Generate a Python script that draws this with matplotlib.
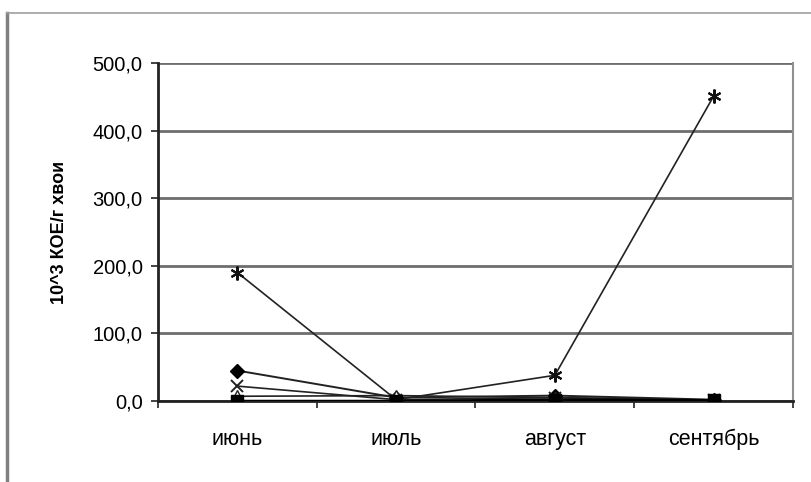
#!/usr/bin/env python3
import numpy as np
import matplotlib
matplotlib.use('Agg')
import matplotlib.pyplot as plt

months = ['июнь', 'июль', 'август', 'сентябрь']
s_star = [190.0, 2.0, 38.0, 451.0]
s_diamond = [45.0, 5.0, 8.0, 2.0]
s_cross = [22.0, 2.0, 5.0, 1.0]
s_triangle = [7.0, 8.0, 5.0, 1.0]
s_square = [0.0, 0.0, 2.0, 1.0]
y_ticks = [0, 100, 200, 300, 400, 500]

plt.rcParams['font.family'] = ['Liberation Sans', 'DejaVu Sans']

fig = plt.figure(figsize=(8.12, 4.82), dpi=100)
W, H = 812, 482
ax = fig.add_axes([158 / W, 1 - 401 / H, (793 - 158) / W, (401 - 63) / H])

# outer chart frame (left + top grey lines)
fig.add_artist(plt.Line2D([7 / W, 7 / W], [0, 1 - 13 / H], transform=fig.transFigure,
                          color='#808080', lw=2.5))
fig.add_artist(plt.Line2D([7 / W, 1], [1 - 13 / H, 1 - 13 / H], transform=fig.transFigure,
                          color='#a0a0a0', lw=1.2))

x = np.arange(len(months))
lc = '#222222'
ax.plot(x, s_star, color=lc, lw=1.2, marker=(6, 2, 0), ms=10, mew=1.5, mec='#111111', zorder=5)
ax.plot(x, s_diamond, color=lc, lw=1.4, marker='D', ms=7, mfc='black', mec='black', zorder=5)
ax.plot(x, s_cross, color=lc, lw=1.2, marker='x', ms=8, mew=1.4, mec='#222222', zorder=5)
ax.plot(x, s_triangle, color=lc, lw=1.2, marker='^', ms=8, mfc='white', mec='#222222', zorder=5)
ax.plot(x, s_square, color='black', lw=1.8, marker='s', ms=9, mfc='black', mec='black', zorder=6)

ax.set_xlim(-0.5, len(months) - 0.5)
ax.set_ylim(0, 500)
ax.set_yticks(y_ticks)
ax.set_yticklabels([f'{v:.1f}'.replace('.', ',') for v in y_ticks], fontsize=14.5)
ax.yaxis.grid(True, color='#6e6e6e', lw=2.0)
ax.set_axisbelow(True)

ax.set_xticks(x)
ax.set_xticklabels(months, fontsize=15.5)
ax.set_xticks(np.arange(len(months) + 1) - 0.5, minor=True)
ax.tick_params(axis='x', which='major', length=0, pad=20)
ax.tick_params(axis='x', which='minor', length=5, width=1.2, color='#222222')
ax.tick_params(axis='y', length=5, width=1.2, color='#222222', pad=6)

for side in ['left', 'bottom']:
    ax.spines[side].set_color('#222222')
    ax.spines[side].set_linewidth(2.0)
ax.spines['right'].set_color('#909090')
ax.spines['right'].set_linewidth(1.5)
ax.spines['top'].set_visible(False)

fig.text(60 / W, 1 - 232 / H, '10^3 КОЕ/г хвои', rotation=90, fontsize=13,
         fontweight='bold', ha='center', va='center')

fig.savefig('out.png', dpi=100)
